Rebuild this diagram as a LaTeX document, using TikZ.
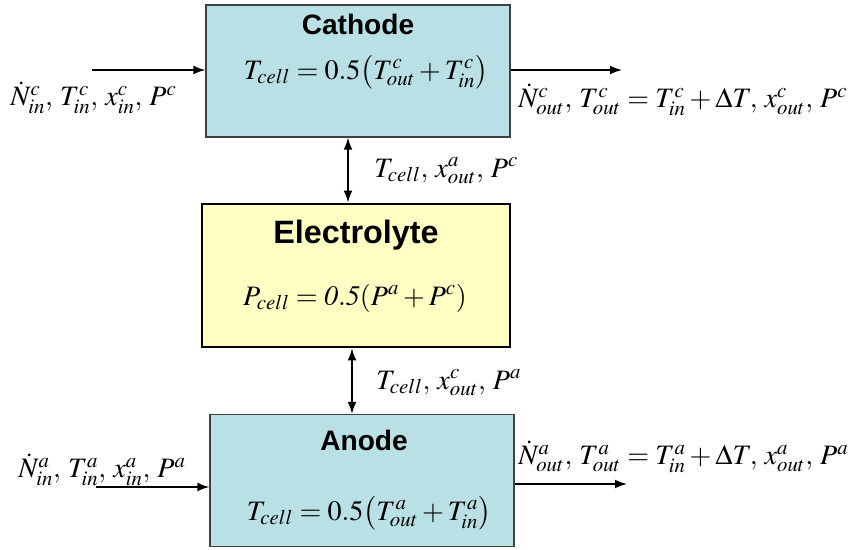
\documentclass[tikz,border=0pt]{standalone}
\usepackage{mathptmx}
\usepackage[no-math]{fontspec}
\setmainfont{Liberation Serif}
\setsansfont{Liberation Sans}
\usetikzlibrary{arrows.meta}
\definecolor{electrodeblue}{HTML}{B9E0E4}
\definecolor{electrolyteyellow}{HTML}{FFFFC4}
\newcommand{\gap}{\mkern2.5mu}
\begin{document}
\begin{tikzpicture}[
  electrode/.style={draw=black!75, line width=0.9pt, fill=electrodeblue, rectangle,
                    minimum width=7.6cm, minimum height=3.3cm, inner sep=0pt},
  electrolytebox/.style={draw=black, line width=2pt, fill=electrolyteyellow, rectangle,
                         minimum width=7.7cm, minimum height=3.575cm, inner sep=0pt},
  boxtitle/.style={font=\fontsize{20}{24}\selectfont\sffamily\bfseries, inner sep=0pt},
  eqn/.style={font=\fontsize{20}{24}\selectfont, inner sep=0pt},
  streamlabel/.style={font=\fontsize{20}{24}\selectfont, inner sep=0pt, anchor=west},
  flow/.style={-{Latex[length=0.3cm,width=0.22cm]}, line width=1pt},
  link/.style={{Latex[length=0.3cm,width=0.22cm]}-{Latex[length=0.3cm,width=0.22cm]}, line width=1pt}
]
\useasboundingbox (0,0) rectangle (21.225,-13.75);

\node[electrode] (cathode) at (8.95,-1.775) {};
\node[electrolytebox] (electrolyte) at (8.9,-6.8875) {};
\node[electrode] (anode) at (9.05,-12.0125) {};

\node[boxtitle] (cathodetitle) at (8.95,-0.6) {Cathode};
\node[eqn] (cathodeeq) at (9.15,-1.8) {$T_{cell} = 0.5\bigl(T^{c}_{out} + T^{c}_{in}\bigr)$};
\node[boxtitle, font=\fontsize{23}{27}\selectfont\sffamily\bfseries] (electrolytetitle) at (8.9,-5.875) {Electrolyte};
\node[eqn] (electrolyteeq) at (8.875,-7.45) {$P_{cell} = \mathit{0.5(}P^{a} + P^{c}\mathit{)}$};
\node[boxtitle] (anodetitle) at (9.1,-11.0) {Anode};
\node[eqn] (anodeeq) at (9.225,-12.825) {$T_{cell} = 0.5\bigl(T^{a}_{out} + T^{a}_{in}\bigr)$};

\node[streamlabel] (cathodein) at (0.25,-2.45) {$\dot{N}^{c}_{in},\gap T^{c}_{in},\gap x^{c}_{in},\gap P^{c}$};
\node[streamlabel] (cathodeout) at (12.95,-2.5) {$\dot{N}^{c}_{out},\gap T^{c}_{out} = T^{c}_{in} + \Delta T,\gap x^{c}_{out},\gap P^{c}$};
\node[streamlabel] (upperlink) at (9.35,-4.275) {$T_{cell},\gap x^{a}_{out},\gap P^{c}$};
\node[streamlabel] (lowerlink) at (9.4,-9.575) {$T_{cell},\gap x^{c}_{out},\gap P^{a}$};
\node[streamlabel] (anodein) at (0.45,-11.75) {$\dot{N}^{a}_{in},\gap T^{a}_{in},\gap x^{a}_{in},\gap P^{a}$};
\node[streamlabel] (anodeout) at (12.95,-11.425) {$\dot{N}^{a}_{out},\gap T^{a}_{out} = T^{a}_{in} + \Delta T,\gap x^{a}_{out},\gap P^{a}$};

\coordinate (cin) at (2.3,-1.75);
\coordinate (cout) at (15.55,-1.75);
\coordinate (ain) at (2.4,-12.175);
\coordinate (aout) at (15.675,-12.1);

\draw[flow] (cin) -- (cin -| cathode.west);
\draw[flow] (cout -| cathode.east) -- (cout);
\draw[flow] (ain) -- (ain -| anode.west);
\draw[flow] (aout -| anode.east) -- (aout);
\draw[link] ([xshift=-0.25cm]cathode.south) -- ([xshift=-0.25cm]cathode.south |- electrolyte.north);
\draw[link] ([xshift=-0.1cm]electrolyte.south) -- ([xshift=-0.1cm]electrolyte.south |- anode.north);
\end{tikzpicture}
\end{document}
